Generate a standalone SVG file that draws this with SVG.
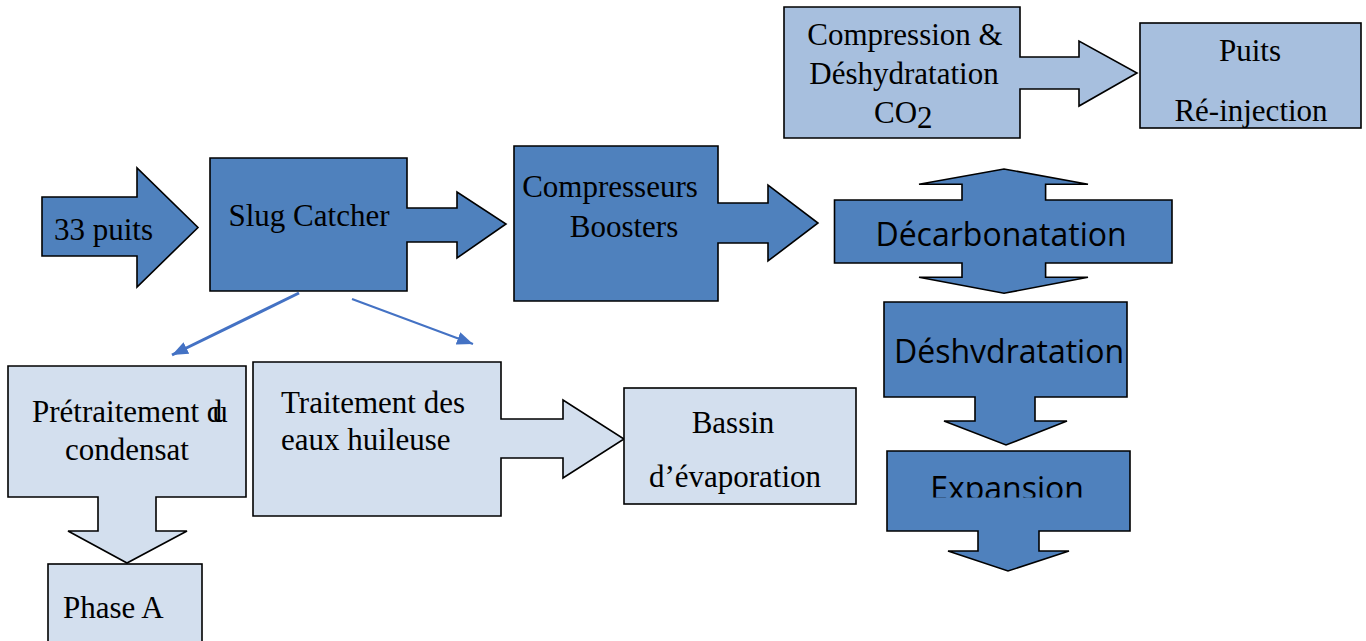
<svg xmlns="http://www.w3.org/2000/svg" width="1366" height="641" viewBox="0 0 1366 641">
<style>
.dark{fill:#4F81BD;stroke:#000;stroke-width:1.6}
.mid{fill:#A7BFDE;stroke:#000;stroke-width:1.6}
.light{fill:#D3DFEE;stroke:#000;stroke-width:1.6}
.t{font-family:"Liberation Serif","Times New Roman",serif;font-size:31px;fill:#000}
.s{font-family:"Open Sans","Noto Sans",sans-serif;font-size:32px;fill:#000}
.c{text-anchor:middle}
.conn{stroke:#4472C4;fill:none}
</style>
<defs>
<marker id="ah" markerUnits="userSpaceOnUse" markerWidth="17" markerHeight="13" refX="16" refY="6.5" orient="auto" viewBox="0 0 17 13">
<path d="M0,0 L16,6.5 L0,13 Z" fill="#4472C4"/>
</marker>
<clipPath id="clipDes"><rect x="880" y="300" width="250" height="63"/></clipPath>
<clipPath id="clipExp"><rect x="880" y="450" width="250" height="47.5"/></clipPath>
</defs>

<g id="puits33">
<path class="dark" d="M42,197 H137 V168 L198,227.5 L137,287 V256 H42 Z"/>
<text class="t" x="54" y="240">33 puits</text>
</g>

<g id="slugcatcher">
<path class="dark" d="M210,158 H407 V208 H457 V192 L506,224 L457,258 V242 H407 V291 H210 Z"/>
<text class="t c" x="309" y="226">Slug Catcher</text>
</g>

<g id="compresseurs">
<path class="dark" d="M514,146 H718 V203 H768 V185 L818,223 L768,261 V243 H718 V301 H514 Z"/>
<text class="t c" x="610" y="197">Compresseurs</text>
<text class="t c" x="624" y="237">Boosters</text>
</g>

<g id="decarbonatation">
<path class="dark" d="M834.5,200 H962 V184.3 H919 L1004,169 L1088,184.3 H1045.6 V200 H1172 V263 H1045.6 V277.3 H1088 L1004,293.3 L919,277.3 H962 V263 H834.5 Z"/>
<text class="s c" x="1001" y="246">Décarbonatation</text>
</g>

<g id="deshydratation">
<path class="dark" d="M884,302 H1127 V397 H1035 V421 H1067 L1006,445 L944,421 H975 V397 H884 Z"/>
<text class="s c" x="1009" y="363" clip-path="url(#clipDes)">Déshydratation</text>
</g>

<g id="expansion">
<path class="dark" d="M887,451 H1130 V531 H1039 V551 H1069 L1008,571 L948,551 H978 V531 H887 Z"/>
<text class="s c" x="1007" y="499.5" clip-path="url(#clipExp)">Expansion</text>
</g>

<g id="compression">
<path class="mid" d="M784,7 H1020 V57 H1079 V41 L1137,73 L1079,106 V89 H1020 V138 H784 Z"/>
<text class="t c" x="905" y="45">Compression &amp;</text>
<text class="t c" x="904" y="84">Déshydratation</text>
<text class="t" x="874" y="123">CO<tspan dy="5">2</tspan></text>
</g>

<g id="reinjection">
<rect class="mid" x="1140" y="23" width="221" height="105"/>
<text class="t c" x="1250" y="61">Puits</text>
<text class="t c" x="1251" y="121">Ré-injection</text>
</g>

<g id="pretraitement">
<path class="light" d="M8,366 H246 V497 H156 V531 H187 L127,563 L68,531 H98 V497 H8 Z"/>
<text class="t" x="32" y="422">Prétraitement <tspan letter-spacing="-10">d</tspan>u</text>
<text class="t c" x="127" y="460">condensat</text>
</g>

<g id="phaseA">
<rect class="light" x="48" y="564" width="154" height="90"/>
<text class="t" x="63" y="618">Phase A</text>
</g>

<g id="traitement">
<path class="light" d="M253,362 H501 V419 H563 V400 L624,439 L563,478 V458 H501 V516 H253 Z"/>
<text class="t" x="281" y="413">Traitement des</text>
<text class="t" x="281" y="450">eaux huileuse</text>
</g>

<g id="bassin">
<rect class="light" x="624" y="388" width="232" height="116"/>
<text class="t c" x="733" y="433">Bassin</text>
<text class="t c" x="735" y="487">d’évaporation</text>
</g>

<g id="connectors">
<line class="conn" x1="299" y1="293" x2="172" y2="355" stroke-width="3" marker-end="url(#ah)"/>
<line class="conn" x1="352" y1="299" x2="473" y2="344" stroke-width="2" marker-end="url(#ah)"/>
</g>
</svg>
